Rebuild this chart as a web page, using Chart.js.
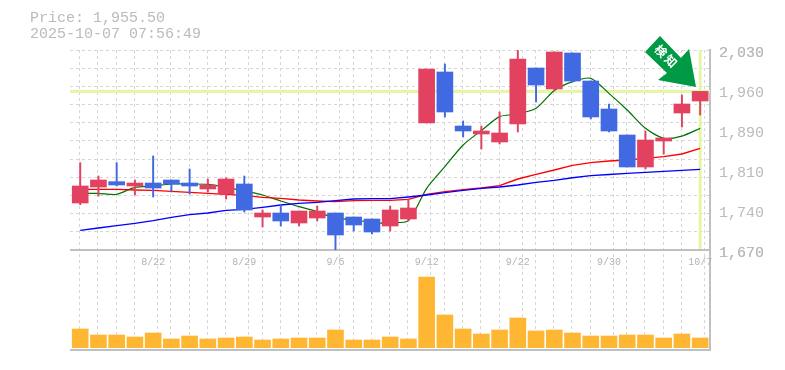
<!DOCTYPE html>
<html>
<head>
<meta charset="utf-8">
<title>Price chart</title>
<script src="https://cdn.jsdelivr.net/npm/chart.js@4"></script>
<style>
    html, body { margin: 0; padding: 0; background: #fff; overflow: hidden; }
    #wrap { position: relative; width: 785px; height: 370px; }
    #info { position: absolute; left: 30px; top: 11px; font: 15px/16px "Liberation Mono", monospace; color: #bbb; white-space: pre; }
</style>
</head>
<body>
<div id="wrap">
    <canvas id="priceChart" width="785" height="370"></canvas>
    <div id="info">Price: 1,955.50
2025-10-07 07:56:49</div>
</div>
<script>
// Values
const lastPrice = 1955.5;
const dateLabels = { 4: '8/22', 9: '8/29', 14: '9/5', 19: '9/12', 24: '9/22', 29: '9/30', 34: '10/7' };
const priceLabelAt = { 1670: 250, 1742: 210, 1814: 170, 1886: 130, 1958: 90, 2030: 50 };
const priceText = { 1670: '1,670', 1742: '1,740', 1814: '1,810', 1886: '1,890', 1958: '1,960', 2030: '2,030' };

const opens = [1754.6, 1783.4, 1793, 1785.2, 1790.6, 1796, 1790.6, 1779.8, 1770.8, 1788.8, 1729.4, 1736.6, 1718.6, 1727.6, 1736.6, 1729.4, 1725.8, 1713.2, 1725.8, 1898.6, 1990.4, 1893.2, 1878.8, 1864.4, 1896.8, 1997.6, 1959.8, 2024.6, 1974.2, 1923.8, 1877, 1819.4, 1866.2, 1916.6, 1938.2];
const closes = [1785.2, 1796, 1787, 1790.6, 1781.6, 1788.8, 1785.2, 1787, 1797.8, 1742, 1736.6, 1722.2, 1740.2, 1740.2, 1697, 1715, 1702.4, 1742, 1745.6, 1995.8, 1918.4, 1884.2, 1884.2, 1880.6, 2013.8, 1967, 2026.4, 1974.2, 1909.4, 1884.2, 1819.4, 1868, 1871.6, 1932.8, 1955.5];
const highs = [1827.2, 1803.2, 1827.2, 1796, 1839.2, 1796, 1815.8, 1797.8, 1799.6, 1803.2, 1742, 1751, 1740.2, 1749.2, 1736.6, 1729.4, 1725.8, 1749.2, 1761.8, 1995.8, 2004.8, 1902.2, 1893.2, 1918.4, 2030, 1997.6, 2026.4, 2024.6, 1974.2, 1932.8, 1877, 1884.2, 1871.6, 1949, 1955.5];
const lows = [1751.6, 1767.2, 1785.2, 1769, 1765.4, 1774.4, 1770.8, 1774.4, 1761.8, 1738.4, 1711.4, 1713.2, 1713.2, 1722.2, 1670, 1704.2, 1698.8, 1704.2, 1722.2, 1898.6, 1909.4, 1873.4, 1851.8, 1860.8, 1882.4, 1936.4, 1956.2, 1972.4, 1905.8, 1882.4, 1819.4, 1815.8, 1842.8, 1891.4, 1913];
const maShort = [1772, 1772, 1770.2, 1782.8, 1785.2, 1788.8, 1788.8, 1788.2, 1782.8, 1776.2, 1769, 1758.2, 1748, 1739, 1727, 1725, 1719, 1719, 1722.8, 1781, 1820, 1859, 1885, 1910, 1915, 1925, 1957, 1973, 1979, 1952, 1922, 1889, 1871, 1875, 1889];
const maMid = [1779.2, 1779.2, 1779.2, 1778, 1777.4, 1775.6, 1773.8, 1772, 1770.2, 1768.4, 1764.8, 1763, 1760, 1758.2, 1757, 1758.8, 1759.4, 1759.4, 1761.2, 1770.2, 1775, 1778.6, 1781.6, 1785.8, 1797.8, 1806.2, 1814, 1822.4, 1827.2, 1830.2, 1832, 1835, 1838, 1842.8, 1853];
const maLong = [1705.4, 1709.6, 1713.8, 1718, 1722.8, 1728.8, 1733.6, 1736.6, 1741.4, 1743.2, 1746.8, 1751, 1754, 1755.8, 1758.8, 1761.8, 1762.4, 1762.4, 1765.4, 1769, 1773.2, 1777.4, 1781, 1783.4, 1787, 1791.8, 1795.4, 1800, 1803.8, 1806, 1808, 1809.8, 1811.6, 1813.4, 1815.2];
const volumes = [56, 38, 38, 32, 44, 26, 35, 26, 29, 32, 23, 26, 29, 29, 53, 23, 23, 32, 26, 212, 98, 56, 41, 53, 89, 50, 53, 44, 35, 35, 38, 38, 29, 41, 29];

const upColor = '#e2425f';
const downColor = '#4169e1';
const borderGrey = '#c0c0c0';
const gridGrey = '#d6d6d6';
const labelGrey = '#b4b4b4';
const lime = '#e4f5a6';

const idx = opens.map((_, i) => i);
const candleColors = idx.map(i => closes[i] >= opens[i] ? upColor : downColor);

function toPoints(values) {
    return values.map((v, i) => ({ x: i, y: v }));
}

// grid lines sit on the slot edges, labels on the slot centres
const xGridTicks = [];
for (let k = 0; k <= 35; k++) xGridTicks.push(k - 0.53);
const yMin = 1670, yMax = 2030;
const yGridTicks = [];
for (let k = 0; k <= 11; k++) yGridTicks.push(yMin + (yMax - yMin) * k / 11);
const priceAxisValues = Object.keys(priceLabelAt).map(Number);

// Current price cross-hair, under the candles
const crossHair = {
    id: 'crossHair',
    beforeDatasetsDraw(chart) {
        const c = chart.ctx, a = chart.chartArea;
        const y = chart.scales.y.getPixelForValue(lastPrice);
        const x = chart.scales.x.getPixelForValue(34);
        c.save();
        c.fillStyle = lime;
        c.fillRect(a.left, y - 1.5, a.right - a.left, 3);
        c.fillRect(x - 1.5, a.top, 3, chart.scales.y.bottom - a.top - 1);
        c.restore();
    }
};

// Green signal arrow pointing at the last candle
const signalArrow = {
    id: 'signalArrow',
    afterDraw(chart) {
        const c = chart.ctx;
        const pts = [[660, 36], [645, 52], [667, 73], [658, 80], [696, 87], [689, 49], [681, 58]];
        c.save();
        c.fillStyle = '#009944';
        c.beginPath();
        pts.forEach((p, i) => i ? c.lineTo(p[0], p[1]) : c.moveTo(p[0], p[1]));
        c.closePath();
        c.fill();
        c.fillStyle = '#fff';
        c.font = 'bold 12px "Noto Sans CJK JP"';
        c.textAlign = 'center';
        c.textBaseline = 'middle';
        c.translate(666, 56);
        c.rotate(Math.PI / 4);
        c.fillText('検', -7, 0);
        c.fillText('知', 7, 0);
        c.restore();
    }
};

new Chart(document.getElementById('priceChart'), {
    data: {
        datasets: [
            { type: 'line', data: toPoints(maShort), yAxisID: 'y', borderColor: '#007000', borderWidth: 1.2, pointRadius: 0, tension: 0.25, order: 5 },
            { type: 'line', data: toPoints(maMid), yAxisID: 'y', borderColor: '#ff0000', borderWidth: 1.4, pointRadius: 0, order: 4 },
            { type: 'line', data: toPoints(maLong), yAxisID: 'y', borderColor: '#0000ff', borderWidth: 1.4, pointRadius: 0, order: 3 },
            { type: 'bar', data: idx.map(i => ({ x: i, y: [lows[i], highs[i]] })), yAxisID: 'y', backgroundColor: candleColors, barThickness: 1.3, grouped: false, order: 2 },
            { type: 'bar', data: idx.map(i => ({ x: i, y: [opens[i], closes[i]] })), yAxisID: 'y', backgroundColor: candleColors, barThickness: 16, grouped: false, order: 1 },
            { type: 'bar', data: idx.map(i => ({ x: i, y: volumes[i] })), yAxisID: 'yVol', backgroundColor: '#ffb733', barThickness: 16, grouped: false, order: 1 }
        ]
    },
    plugins: [crossHair, signalArrow],
    options: {
        responsive: false,
        animation: false,
        layout: { padding: { top: 50, left: 70, right: 0, bottom: 20 } },
        plugins: { legend: { display: false }, tooltip: { enabled: false } },
        scales: {
            x: {
                type: 'linear',
                offset: false,
                position: { yVol: 293 },
                min: -0.56,
                max: 34.54,
                afterBuildTicks(scale) {
                    const labelled = Object.keys(dateLabels).map(Number);
                    scale.ticks = xGridTicks.concat(labelled).sort((a, b) => a - b).map(v => ({ value: v }));
                },
                grid: {
                    drawTicks: false,
                    lineWidth: 1,
                    color: ctx => (ctx.tick && dateLabels[ctx.tick.value] !== undefined) ? 'rgba(0,0,0,0)' : gridGrey
                },
                border: { display: false, dash: [3, 3] },
                ticks: {
                    autoSkip: false,
                    maxRotation: 0,
                    minRotation: 0,
                    padding: 6,
                    z: 1,
                    color: labelGrey,
                    font: { family: '"Liberation Mono", monospace', size: 10 },
                    callback: v => dateLabels[v] || ''
                }
            },
            y: {
                position: 'right',
                stack: 'panels',
                stackWeight: 2,
                min: yMin,
                max: yMax,
                afterFit(scale) { scale.width = 75; },
                afterBuildTicks(scale) {
                    scale.ticks = yGridTicks.concat(priceAxisValues).sort((a, b) => a - b).map(v => ({ value: v }));
                },
                grid: {
                    drawTicks: false,
                    color: ctx => (ctx.tick && priceLabelAt[ctx.tick.value] !== undefined && ctx.tick.value !== yMin && ctx.tick.value !== yMax) ? 'rgba(0,0,0,0)' : gridGrey
                },
                border: { display: true, color: borderGrey, width: 2, dash: [3, 3] },
                ticks: {
                    autoSkip: false,
                    padding: 9,
                    labelOffset: 3,
                    color: '#bbbbbb',
                    font: { family: '"Liberation Mono", monospace', size: 15 },
                    callback: v => priceText[v] || ''
                }
            },
            yVol: {
                position: 'right',
                stack: 'panels',
                stackWeight: 1,
                min: -7,
                max: 293,
                afterFit(scale) { scale.width = 75; },
                afterBuildTicks(scale) {
                    scale.ticks = [{ value: -7 }, { value: 293 }];
                },
                grid: { drawTicks: false, color: borderGrey, lineWidth: 2 },
                border: { display: true, color: borderGrey, width: 2 },
                ticks: { display: false }
            }
        }
    }
});
</script>
</body>
</html>
